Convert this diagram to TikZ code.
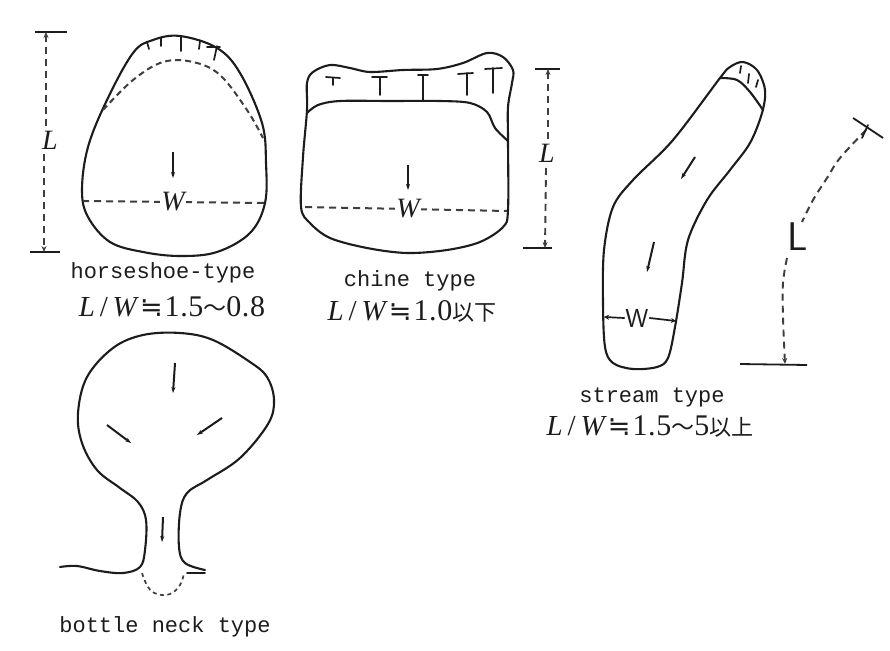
\documentclass[tikz,border=0pt]{standalone}
\usepackage{fontspec}
\setmainfont{Liberation Serif}
\setmonofont{Liberation Mono}
\newfontfamily\cjkf{Noto Sans CJK JP}
\newfontfamily\symf{DejaVu Sans}
\newfontfamily\digf[LetterSpace=2]{Liberation Serif}
\usetikzlibrary{arrows.meta}
\definecolor{ink}{HTML}{1c1c1c}
\newcommand{\ratio}[1]{{\fontsize{29}{31}\selectfont\textit{L}\,/\,\textit{W}\hspace{1pt}{\symf\fontsize{27}{29}\selectfont ≒}\hspace{2pt}{\digf\fontsize{30}{32}\selectfont #1}}}
\newcommand{\wav}{{\cjkf\fontsize{23}{24}\selectfont ～}}
\newcommand{\kanji}[1]{{\cjkf\fontsize{22}{24}\selectfont #1}}
\tikzset{
 outline/.style={draw=ink,line width=2.1pt,line cap=round,line join=round},
 softline/.style={draw=ink,line width=1.7pt,line cap=round},
 dashline/.style={draw=ink!85,line width=2pt,dash pattern=on 7pt off 5pt},
 flow/.style={draw=ink,line width=2pt,-{Stealth[length=6pt,width=4pt]}},
 dimarrow/.style={draw=ink!85,line width=1.9pt,dash pattern=on 7pt off 5pt,-{Stealth[length=6pt,width=5pt]}},
 bar/.style={draw=ink,line width=1.8pt},
 caption/.style={font=\ttfamily\fontsize{22}{24}\selectfont,text=ink,inner sep=0pt},
 ratiotext/.style={text=ink,inner sep=0pt},
 dimlabel/.style={font=\fontsize{28}{30}\selectfont\itshape,text=ink,inner sep=1pt,fill=white},
}
\begin{document}
\begin{tikzpicture}[x=1pt,y=-1pt]
\useasboundingbox[fill=white] (0,0) rectangle (890,650);

% ---------- horseshoe
\draw[outline] plot[smooth cycle,tension=0.6] coordinates {(180,36)(217,48)(240,73)(262,123)(266,163)(265,203)(250,233)(217,252)(180,256)(143,252)(110,242)(88,217)(82,190)(88,147)(107,100)(133,53)(153,40)};
\draw[dashline,dash pattern=on 6pt off 4pt] plot[smooth,tension=0.6] coordinates {(103,110)(133,80)(163,62)(193,62)(220,75)(247,110)(263,138)};
\foreach \xa/\ya/\xb/\yb in {147/42/149/49,161/38/161/46,181/37/181/51,200/41/199/49,217/46/214/60}{
  \draw[softline] (\xa,\ya) -- (\xb,\yb);}
\draw[softline] (207,47) -- (220,47);
\coordinate (hT1) at (35,32); \coordinate (hT2) at (67,32);
\coordinate (hB1) at (30,252); \coordinate (hB2) at (60,252);
\draw[bar] (hT1) -- (hT2); \draw[bar] (hB1) -- (hB2);
\node[dimlabel] (hL) at (50,140) {L};
\draw[dimarrow] (46,126) -- (46,32);
\draw[dimarrow] (44,154) -- (44,252);
\coordinate (hWl) at (83,201); \coordinate (hWr) at (265,203);
\draw[dashline] (173,202) -- (hWl); \draw[dashline] (173,202) -- (hWr);
\node[dimlabel] (hW) at (173,202) {W};
\coordinate (hA1) at (173,152); \coordinate (hA2) at (173,178);
\draw[flow] (hA1) -- (hA2);
\node[caption] (hCap) at (163,273) {horseshoe-type};
\node[ratiotext] (hRat) at (172,307) {\ratio{1.5\wav 0.8}};

% ---------- chine
\draw[outline] plot[smooth cycle,tension=0.55] coordinates {(307,83)(313,72)(330,65)(350,68)(370,72)(403,70)(437,69)(463,63)(487,53)(503,57)(513,70)(512,83)(508,107)(508,140)(508,210)(503,227)(480,242)(447,250)(407,253)(367,248)(330,238)(310,223)(301,207)(303,157)(307,110)};
\draw[outline] plot[smooth,tension=0.55] coordinates {(307,113)(318,105)(340,101)(390,101)(440,101)(470,103)(487,112)(495,128)(508,141)};
\foreach \xa/\ya/\xb/\yb in {333/78/333/85,380/77/380/95,423/75/423/100,467/73/467/95,493/68/493/93}{
  \draw[softline] (\xa,\ya) -- (\xb,\yb);}
\foreach \xa/\ya/\xb/\yb in {326/77/340/78,372/77/387/77,418/75/428/75,458/74/473/73,485/69/502/68}{
  \draw[softline] (\xa,\ya) -- (\xb,\yb);}
\coordinate (cT1) at (535,69); \coordinate (cT2) at (560,69);
\coordinate (cB1) at (523,248); \coordinate (cB2) at (552,248);
\draw[bar] (cT1) -- (cT2); \draw[bar] (cB1) -- (cB2);
\node[dimlabel] (cL) at (547,153) {L};
\draw[dimarrow] (548,139) -- (548,69);
\draw[dimarrow] (546,168) -- (545,248);
\coordinate (cWl) at (302,207); \coordinate (cWr) at (507,211);
\draw[dashline] (408,209) -- (cWl); \draw[dashline] (408,209) -- (cWr);
\node[dimlabel] (cW) at (408,209) {W};
\coordinate (cA1) at (408,165); \coordinate (cA2) at (408,190);
\draw[flow] (cA1) -- (cA2);
\node[caption] (cCap) at (410,281) {chine type};
\node[ratiotext] (cRat) at (412,311) {\ratio{1.0\kanji{以下}}};

% ---------- stream
\draw[outline] plot[smooth cycle,tension=0.55] coordinates {(720,78)(730,67)(743,62)(757,70)(765,90)(762,113)(750,143)(730,170)(707,200)(688,240)(682,283)(675,327)(668,358)(657,367)(633,369)(613,363)(605,347)(603,303)(604,250)(613,207)(633,180)(673,140)};
\draw[outline] plot[smooth,tension=0.55] coordinates {(720,78)(737,80)(750,92)(763,110)};
\foreach \xa/\ya/\xb/\yb in {741/66/740/73,749/74/748/83,758/80/756/87}{
  \draw[softline] (\xa,\ya) -- (\xb,\yb);}
\coordinate (sA1) at (695,157); \coordinate (sA2) at (681,179);
\coordinate (sA3) at (654,242); \coordinate (sA4) at (647,272);
\draw[flow] (sA1) -- (sA2); \draw[flow] (sA3) -- (sA4);
\node[font=\sffamily\fontsize{26}{28}\selectfont,text=ink,inner sep=1pt] (sW) at (637,318) {W};
\coordinate (sWl) at (604,317); \coordinate (sWr) at (676,321);
\draw[softline,-{Stealth[length=5pt,width=5pt]}] (sW.west) -- (sWl);
\draw[softline,-{Stealth[length=5pt,width=5pt]}] (sW.east) -- (sWr);
\node[caption] (sCap) at (652,397) {stream type};
\node[ratiotext] (sRat) at (650,427) {\ratio{1.5\wav 5\kanji{以上}}};
\coordinate (sT1) at (853,118); \coordinate (sT2) at (883,138);
\coordinate (sB1) at (740,364); \coordinate (sB2) at (807,365);
\draw[bar] (sT1) -- (sT2); \draw[bar] (sB1) -- (sB2);
\node[font=\sffamily\fontsize{40}{42}\selectfont,text=ink,inner sep=0pt] (sL) at (798,237) {L};
\draw[dashline] plot[smooth,tension=0.6] coordinates {(866,130)(840,158)(827,178)(813,200)(802,222)};
\draw[dimarrow] plot[smooth,tension=0.6] coordinates {(787,258)(783,283)(783,317)(785,364)};
\draw[softline] (868,125) -- (862,138);

% ---------- bottle neck
\draw[outline] plot[smooth,tension=0.6] coordinates {(60,567)(77,566)(100,571)(123,573)(140,567)(145,550)(146,520)(138,502)(120,488)(97,470)(82,443)(78,413)(87,377)(113,348)(143,335)(180,333)(213,340)(250,362)(267,377)(274,400)(268,424)(240,458)(207,480)(187,493)(180,513)(179,547)(185,563)(205,570)};
\draw[outline,line width=1.6pt] (187,573) -- (205,573);
\draw[dashline,line width=1.7pt,dash pattern=on 4pt off 3.5pt] plot[smooth,tension=0.7] coordinates {(142,573)(148,587)(157,594)(170,594)(180,585)(184,573)};
\coordinate (bA1) at (175,363); \coordinate (bA2) at (173,393);
\coordinate (bA3) at (107,425); \coordinate (bA4) at (131,443);
\coordinate (bA5) at (222,418); \coordinate (bA6) at (197,435);
\coordinate (bA7) at (163,517); \coordinate (bA8) at (162,542);
\draw[flow] (bA1) -- (bA2); \draw[flow] (bA3) -- (bA4);
\draw[flow] (bA5) -- (bA6); \draw[flow] (bA7) -- (bA8);
\node[caption] (bCap) at (165,627) {bottle neck type};
\end{tikzpicture}
\end{document}
